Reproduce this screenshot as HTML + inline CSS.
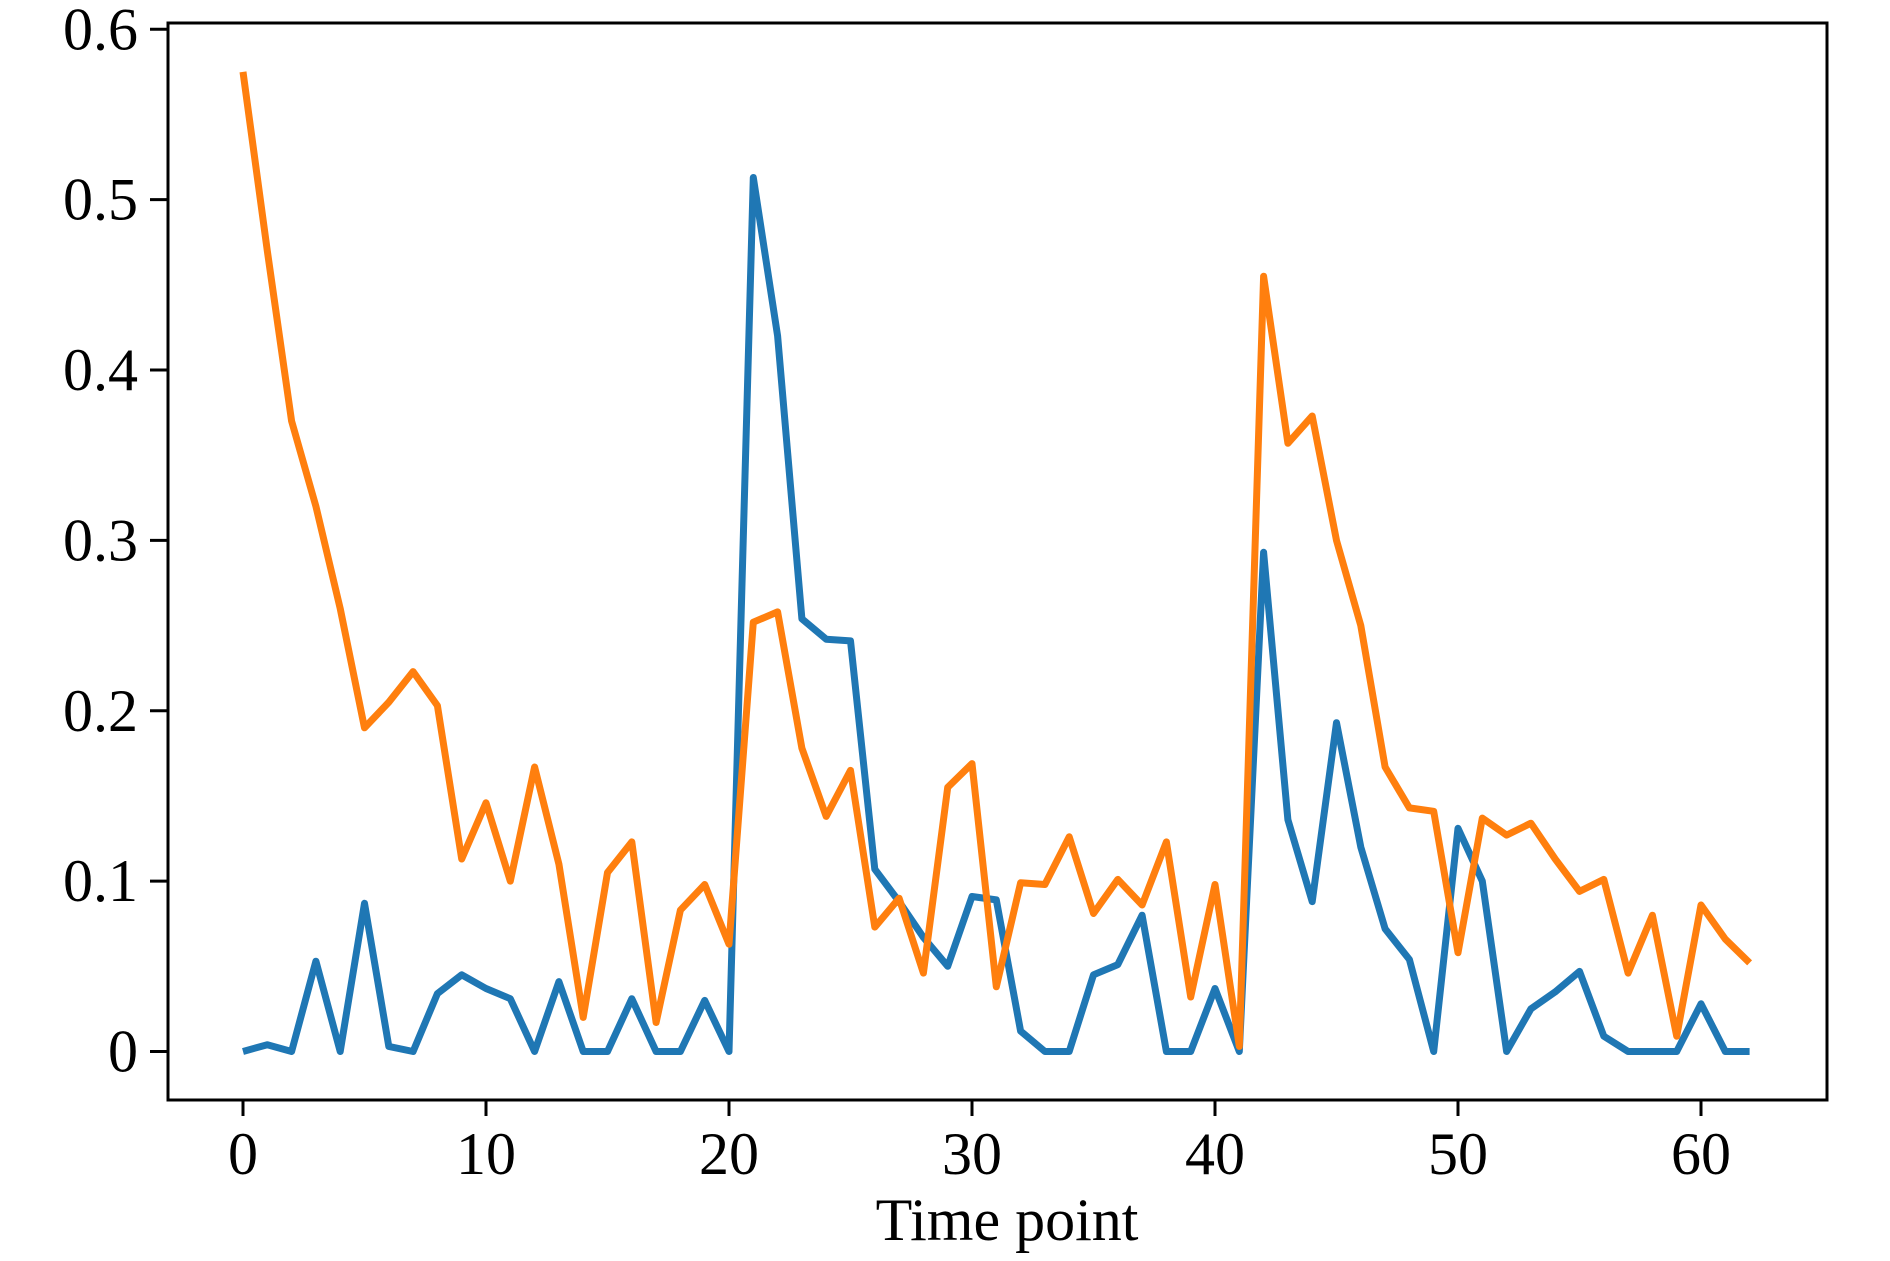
<!DOCTYPE html>
<html><head><meta charset="utf-8"><style>
html,body{margin:0;padding:0;background:#fff;width:1890px;height:1261px;overflow:hidden}
svg{display:block}
text{font-family:"Liberation Serif",serif;font-size:60px;fill:#000}
</style></head><body>
<svg id="s" width="1890" height="1261" viewBox="0 0 1890 1261">
<polyline id="b" fill="none" stroke="#1f77b4" stroke-width="7" stroke-linejoin="round"/>
<polyline id="o" fill="none" stroke="#ff7f0e" stroke-width="7" stroke-linejoin="round"/>
<rect x="168" y="23" width="1659" height="1077" fill="none" stroke="#000" stroke-width="3"/>
<g id="ticks" stroke="#000" stroke-width="3"></g>
<g id="labels"></g>
<text x="1007" y="1240" text-anchor="middle">Time point</text>
</svg>
<script>
var X=function(t){return 243+24.3*t},Y=function(v){return 1051.5-1703.7*v};
var o=[0.575,0.47,0.37,0.32,0.26,0.19,0.205,0.223,0.203,0.113,0.146,0.1,0.167,0.11,0.02,0.105,0.123,0.017,0.083,0.098,0.063,0.252,0.258,0.178,0.138,0.165,0.073,0.09,0.046,0.155,0.169,0.038,0.099,0.098,0.126,0.081,0.101,0.086,0.123,0.032,0.098,0.003,0.455,0.357,0.373,0.3,0.25,0.167,0.143,0.141,0.058,0.137,0.127,0.134,0.113,0.094,0.101,0.046,0.08,0.009,0.086,0.066,0.052];
var b=[0,0.004,0,0.053,0,0.087,0.003,0,0.034,0.045,0.037,0.031,0,0.041,0,0,0.031,0,0,0.03,0,0.513,0.42,0.254,0.242,0.241,0.107,0.088,0.067,0.05,0.091,0.089,0.012,0,0,0.045,0.051,0.08,0,0,0.037,0,0.293,0.136,0.088,0.193,0.12,0.072,0.054,0,0.131,0.1,0,0.025,0.035,0.047,0.009,0,0,0,0.028,0,0];
function pts(a){return a.map(function(v,i){return X(i).toFixed(1)+","+Y(v).toFixed(1)}).join(" ")}
document.getElementById("o").setAttribute("points",pts(o));
document.getElementById("b").setAttribute("points",pts(b));
var ns="http://www.w3.org/2000/svg",tk=document.getElementById("ticks"),lb=document.getElementById("labels");
function el(n,a,p,t){var e=document.createElementNS(ns,n);for(var k in a)e.setAttribute(k,a[k]);if(t!=null)e.textContent=t;p.appendChild(e);}
for(var i=0;i<=6;i++){var x=X(i*10);el("line",{x1:x,y1:1100,x2:x,y2:1116},tk);el("text",{x:x,y:1174,"text-anchor":"middle"},lb,String(i*10));}
var yl=["0","0.1","0.2","0.3","0.4","0.5","0.6"];
for(var j=0;j<=6;j++){var y=Y(j/10);el("line",{x1:150,y1:y,x2:168,y2:y},tk);el("text",{x:138,y:y+20,"text-anchor":"end"},lb,yl[j]);}
</script>
</body></html>
